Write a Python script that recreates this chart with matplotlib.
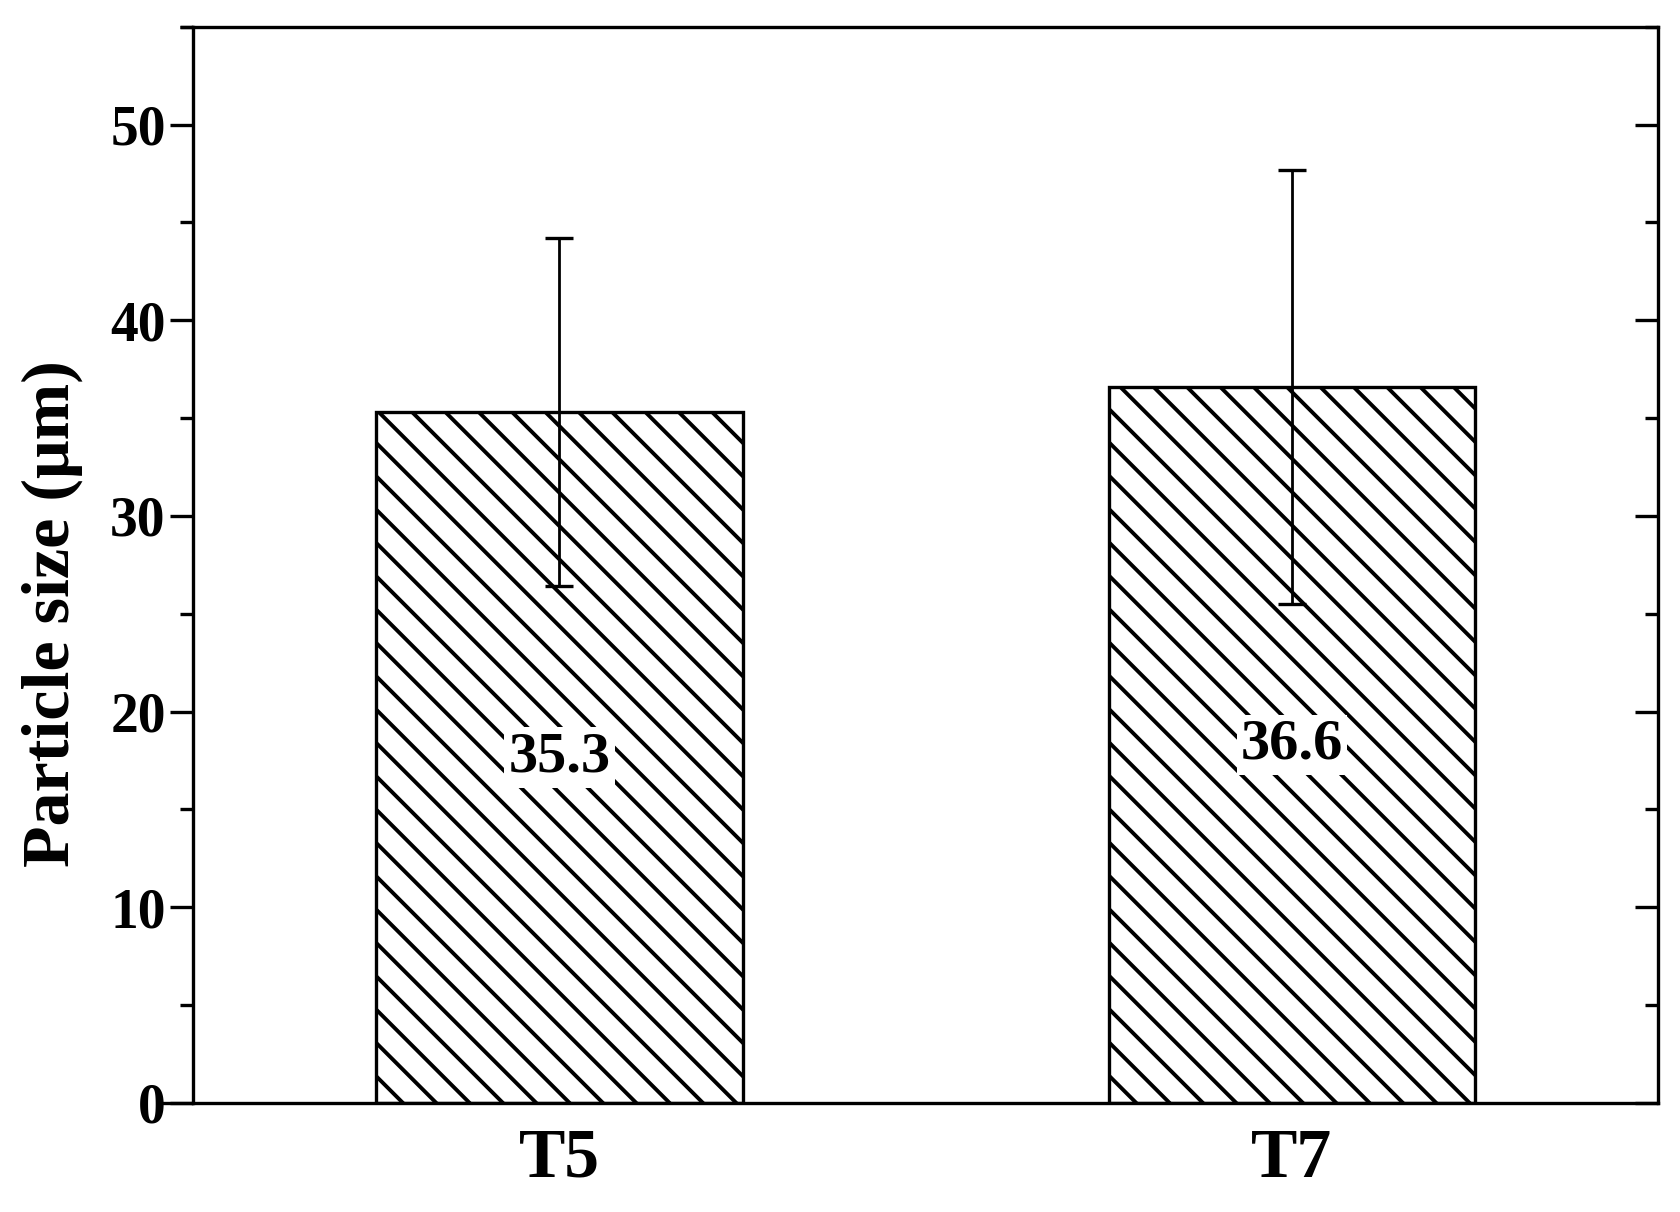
import numpy as np
import matplotlib
matplotlib.use("Agg")
import matplotlib.pyplot as plt
from matplotlib.ticker import MultipleLocator

samples = ["T5", "T7"]
mean_size = [35.3, 36.6]
err_size = [8.9, 11.1]
bar_labels = ["35.3", "36.6"]

plt.rcParams['font.family'] = ['Liberation Serif', 'DejaVu Serif']
plt.rcParams['font.weight'] = 'bold'
plt.rcParams['hatch.linewidth'] = 1.4

fig = plt.figure(figsize=(8.4, 6.06), dpi=200)
ax = fig.add_axes([0.115, 0.090, 0.872, 0.888])

x = np.arange(len(samples))
ax.bar(x, mean_size, width=0.5, color='white', edgecolor='black',
       linewidth=1.2, hatch='\\\\', zorder=2)
ax.errorbar(x, mean_size, yerr=err_size, fmt='none', ecolor='black',
            elinewidth=1.0, capsize=4.9, capthick=1.2, zorder=3)

for xi, v, lab in zip(x, mean_size, bar_labels):
    ax.text(xi, v / 2, lab, ha='center', va='center', fontsize=21,
            fontweight='bold', zorder=4,
            bbox=dict(facecolor='white', edgecolor='none', pad=1.5))

ax.set_xlim(-0.5, 1.5)
ax.set_ylim(0, 55)
ax.set_xticks(x)
ax.set_xticklabels(samples, fontsize=25, fontweight='bold')
ax.tick_params(axis='x', length=0, pad=9)

ax.yaxis.set_major_locator(MultipleLocator(10))
ax.yaxis.set_minor_locator(MultipleLocator(5))
ax.tick_params(axis='y', which='major', direction='out', length=8.4,
               width=1.2, labelsize=20, pad=1.5, right=True)
ax.tick_params(axis='y', which='minor', direction='out', length=4.7,
               width=1.2, right=True)
for lab in ax.get_yticklabels():
    lab.set_fontweight('bold')

# right side ticks point inward
for t in ax.yaxis.get_major_ticks() + ax.yaxis.get_minor_ticks():
    t.tick2line.set_marker(matplotlib.lines.TICKLEFT)

for sp in ax.spines.values():
    sp.set_linewidth(1.2)

# top and bottom frame lines run a bit past the left spine
ax.plot([-0.009, 0], [1, 1], transform=ax.transAxes, color='black',
        lw=1.2, clip_on=False, solid_capstyle='butt')
ax.plot([-0.023, 0], [0, 0], transform=ax.transAxes, color='black',
        lw=1.2, clip_on=False, solid_capstyle='butt')

ax.set_ylabel('Particle size (\u03bcm)', fontsize=24.5, fontweight='bold')
ax.yaxis.set_label_coords(-0.075, 0.455)

fig.savefig('out.png', dpi=200)
